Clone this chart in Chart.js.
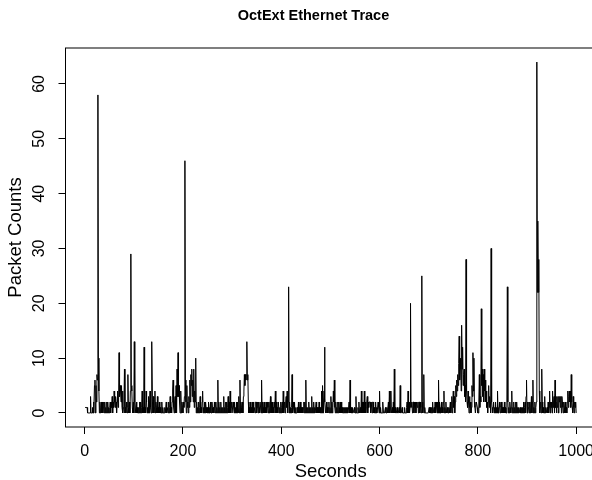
<!DOCTYPE html>
<html>
<head>
<meta charset="utf-8">
<script src="https://cdn.jsdelivr.net/npm/chart.js@4.4.1/dist/chart.umd.min.js"></script>
<style>
  html, body { margin: 0; padding: 0; background: #fff; overflow: hidden; }
  #wrap { width: 592px; height: 480px; overflow: hidden; }
</style>
</head>
<body>
<div id="wrap"><canvas id="trace" width="627" height="480"></canvas></div>
<script>
// packet counts per second (one block per 100 s)
const counts001 = [
  1,1,1,1,1,0,0,0,0,0, 0,3,0,0,0,1,0,2,0,5, 6,0,5,2,7,6,58,10,4,0, 2,0,1,2,0,2,0,1,2,0,
  2,0,1,0,2,0,2,0,1,0, 1,2,0,2,1,3,0,2,1,4, 2,1,3,2,0,2,4,1,2,11, 3,5,4,2,5,1,4,0,1,2,
  8,0,1,0,2,1,0,7,1,0, 2,0,4,29,5,4,1,0,2,0
];
const counts101 = [
  13,2,0,0,2,0,1,0,0,1, 0,2,0,2,0,1,4,0,1,0, 12,0,1,0,4,2,0,1,0,3, 0,2,4,1,0,4,13,2,0,3,
  0,1,4,0,2,1,0,3,0,1, 0,2,0,1,0,0,2,0,1,0, 0,0,1,0,0,2,0,1,1,0, 2,0,1,3,0,1,0,2,4,6,
  1,0,2,3,0,5,0,8,3,11, 3,5,2,0,1,4,0,2,1,0
];
const counts201 = [
  2,1,3,46,6,2,0,5,1,2, 0,3,1,6,2,7,5,8,3,6, 2,8,1,4,2,10,0,2,0,1, 0,2,0,1,3,0,1,0,2,4,
  0,1,0,2,0,2,1,0,1,0, 0,2,0,1,0,2,0,0,2,1, 0,1,0,2,1,0,2,0,1,0, 6,0,2,0,1,0,2,0,1,0,
  1,0,3,0,1,0,2,0,2,0, 1,3,0,2,0,4,0,1,2,0
];
const counts301 = [
  0,2,1,0,2,0,1,0,2,0, 2,1,0,3,0,6,0,2,1,0, 2,0,3,4,7,5,7,6,7,13, 6,7,2,0,1,0,2,0,1,0,
  2,0,2,0,1,1,0,2,2,0, 1,2,0,2,1,0,2,2,0,6, 0,2,1,0,2,0,1,0,2,0, 0,2,1,0,2,0,1,3,0,2,
  0,2,0,1,0,2,1,4,0,2, 0,1,0,2,2,0,1,0,2,0
];
const counts401 = [
  1,2,0,4,0,1,2,0,2,3, 1,4,0,2,23,0,2,0,1,0, 1,7,0,2,1,0,2,0,1,0, 0,1,1,0,2,0,1,0,2,0,
  1,0,1,0,1,2,0,2,0,6, 0,1,0,1,0,2,0,1,0,1, 0,3,0,1,0,2,0,1,0,0, 2,0,1,0,1,0,2,0,1,0,
  0,4,0,5,0,2,4,12,2,0, 0,2,0,1,0,1,2,0,1,0
];
const counts501 = [
  3,0,2,0,1,4,2,6,1,0, 2,0,1,0,2,0,2,1,0,2, 0,2,0,1,0,0,1,0,1,0, 1,0,1,0,1,0,0,2,0,6,
  0,1,0,0,1,0,0,0,1,0, 0,3,0,0,0,1,0,2,0,0, 1,0,4,0,2,0,2,0,4,0, 2,0,1,2,3,0,2,1,2,2,
  2,0,2,2,0,2,2,0,1,0, 0,2,0,1,0,0,2,1,0,4
];
const counts601 = [
  0,1,0,0,0,0,2,0,0,0, 0,1,0,0,1,0,0,2,0,4, 0,1,4,0,0,1,0,2,0,8, 0,1,0,0,0,1,0,0,0,1,
  0,5,0,0,0,1,0,0,0,0, 1,0,0,0,1,2,0,4,0,2, 0,1,20,2,1,2,0,2,2,0, 2,1,2,0,2,2,1,2,0,2,
  2,0,2,1,0,25,2,0,1,7, 0,1,0,0,0,0,0,0,0,0
];
const counts701 = [
  1,0,1,0,0,1,0,2,0,0, 1,0,2,0,2,1,0,2,0,6, 0,2,0,1,0,2,0,1,0,2, 4,0,1,0,2,0,0,1,0,0,
  1,0,0,2,0,1,3,0,2,4, 1,3,0,2,5,3,6,4,7,5, 9,14,6,8,10,4,16,8,12,5, 7,8,3,5,2,28,4,2,1,4,
  2,0,3,1,2,0,1,5,3,11, 4,10,2,1,0,0,2,2,1,0
];
const counts801 = [
  0,2,7,1,3,2,19,5,8,3, 7,2,8,4,6,2,4,1,2,0, 2,5,1,3,2,0,30,2,1,0, 1,2,0,1,0,2,0,1,0,4,
  0,1,0,2,1,0,1,2,0,1, 0,1,0,2,0,1,0,0,1,23, 2,0,1,0,2,1,0,1,4,0, 1,0,2,0,1,0,2,0,2,0,
  1,0,1,0,0,1,0,0,1,0, 1,0,2,0,1,2,0,3,6,0
];
const counts901 = [
  2,0,1,2,0,2,0,1,3,0, 2,6,0,1,0,2,0,1,2,64, 22,35,22,28,4,0,1,2,0,8, 2,0,1,0,0,3,0,1,0,0,
  1,0,2,0,1,4,0,2,1,2, 0,4,1,2,3,0,6,1,2,0, 3,1,3,0,3,2,3,1,3,0, 3,2,1,0,2,1,0,2,0,1,
  0,2,4,1,3,4,2,4,1,7, 2,1,0,3,1,0,2,1,2,0
];

const xTicks = [0, 200, 400, 600, 800, 1000];
const yTicks = [0, 10, 20, 30, 40, 50, 60];

const titleText = 'OctExt Ethernet Trace';
const xTitle = 'Seconds';
const yTitle = 'Packet Counts';

const FONT = "'Liberation Sans', Arial, Helvetica, sans-serif";

const counts = [].concat(counts001, counts101, counts201, counts301, counts401,
  counts501, counts601, counts701, counts801, counts901);
const points = counts.map((c, i) => ({ x: i + 1, y: c }));

// R-like frame, main title and vertical y tick labels
const rFrame = {
  id: 'rFrame',
  afterDraw(chart) {
    const ctx = chart.ctx;
    const a = chart.chartArea;
    const ys = chart.scales.y;
    ctx.save();
    ctx.strokeStyle = '#000';
    ctx.lineWidth = 1;
    ctx.strokeRect(a.left, a.top, a.right - a.left, a.bottom - a.top);
    ctx.fillStyle = '#000';
    ctx.textAlign = 'center';
    ctx.textBaseline = 'middle';
    // title sits over the middle of the full (uncropped) figure
    ctx.font = 'bold 14.5px ' + FONT;
    ctx.fillText(titleText, 313.5, 15.5);
    ctx.font = '16px ' + FONT;
    yTicks.forEach(v => {
      ctx.save();
      ctx.translate(39.5, ys.getPixelForValue(v));
      ctx.rotate(-Math.PI / 2);
      ctx.fillText(String(v), 0, 0);
      ctx.restore();
    });
    ctx.restore();
  }
};

new Chart(document.getElementById('trace'), {
  type: 'line',
  data: {
    datasets: [{
      data: points,
      borderColor: '#000',
      borderWidth: 1,
      pointRadius: 0,
      tension: 0,
      fill: false
    }]
  },
  options: {
    responsive: false,
    animation: false,
    events: [],
    layout: { padding: { left: 0, right: 31.2, top: 48, bottom: 0 } },
    plugins: {
      legend: { display: false },
      tooltip: { enabled: false },
      title: { display: false }
    },
    scales: {
      x: {
        type: 'linear',
        min: -38.96,
        max: 1039.96,
        afterBuildTicks: s => { s.ticks = xTicks.map(v => ({ value: v })); },
        afterFit: s => { s.height = 53; },
        border: { display: false },
        grid: { drawOnChartArea: false, drawTicks: true, tickLength: 7, color: '#000' },
        ticks: {
          color: '#000',
          padding: 8.4,
          maxRotation: 0,
          autoSkip: false,
          callback: v => String(v),
          font: { family: FONT, size: 16, lineHeight: 1.2 }
        },
        title: {
          display: true,
          text: xTitle,
          color: '#000',
          font: { family: FONT, size: 18.5, lineHeight: 0.86 },
          padding: { top: 0, bottom: 0 }
        }
      },
      y: {
        type: 'linear',
        min: -2.56,
        max: 66.56,
        afterBuildTicks: s => { s.ticks = yTicks.map(v => ({ value: v })); },
        afterFit: s => { s.width = 65.5; },
        border: { display: false },
        grid: { drawOnChartArea: false, drawTicks: true, tickLength: 7, color: '#000' },
        ticks: { callback: () => '' },
        title: {
          display: true,
          text: yTitle,
          color: '#000',
          font: { family: FONT, size: 18.5, lineHeight: 1 },
          padding: { top: 6.75, bottom: 0 }
        }
      }
    }
  },
  plugins: [rFrame]
});
</script>
</body>
</html>
